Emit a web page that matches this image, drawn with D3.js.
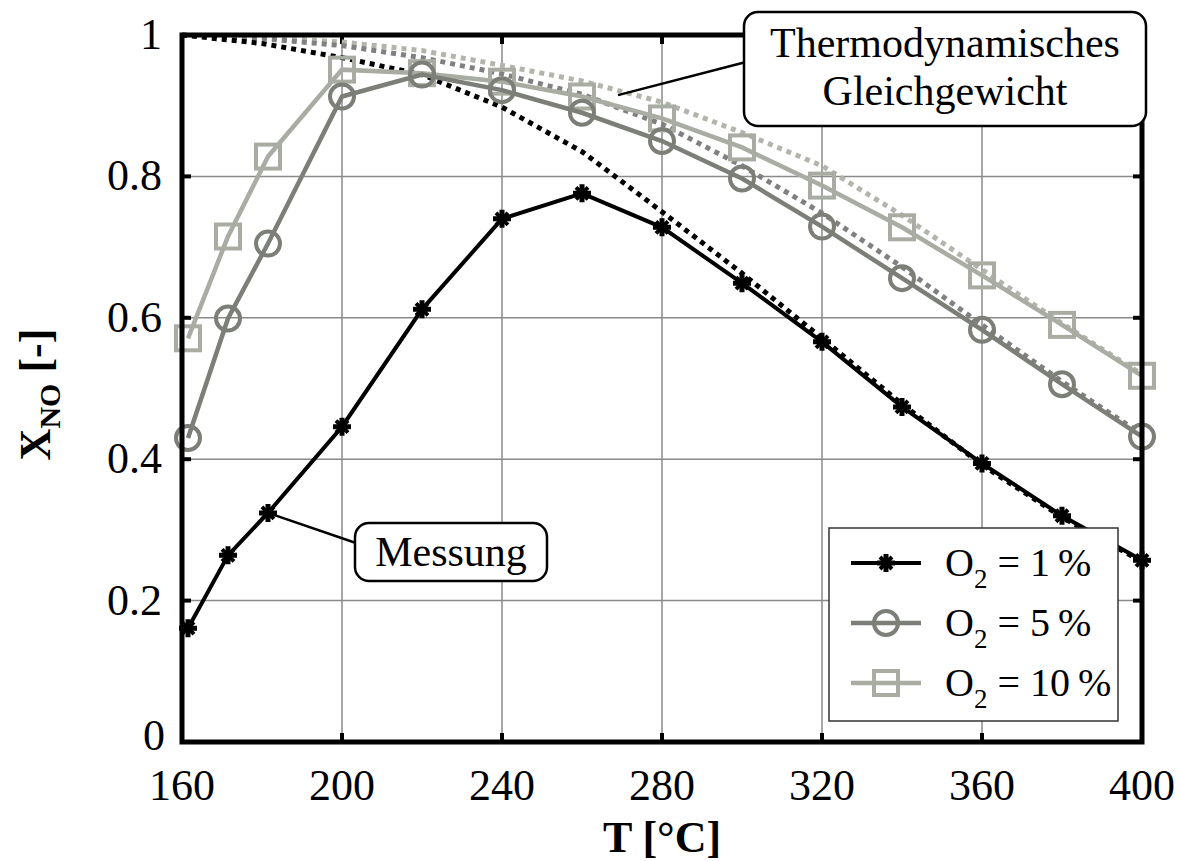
<!DOCTYPE html>
<html>
<head>
<meta charset="utf-8">
<script src="https://cdn.jsdelivr.net/npm/d3@7"></script>
<style>
  html, body { margin: 0; padding: 0; background: #fff; }
  text { font-family: "Liberation Serif", "DejaVu Serif", serif; fill: #000; }
</style>
</head>
<body>
<div id="chart"></div>
<script>
// ── Data ──
const tMeas = [161.5, 171.5, 181.5, 200, 220, 240, 260, 280, 300, 320, 340, 360, 380, 400];
const meas1  = [0.161, 0.264, 0.324, 0.446, 0.612, 0.740, 0.776, 0.728, 0.649, 0.566, 0.474, 0.394, 0.320, 0.257];
const meas5  = [0.430, 0.599, 0.705, 0.913, 0.944, 0.922, 0.890, 0.850, 0.797, 0.729, 0.656, 0.583, 0.506, 0.432];
const meas10 = [0.571, 0.715, 0.828, 0.951, 0.946, 0.934, 0.913, 0.882, 0.841, 0.787, 0.728, 0.660, 0.590, 0.518];

const tEq  = [160, 180, 200, 220, 240, 260, 280, 300, 320, 340, 360, 380, 400];
const eq1  = [1.000, 0.988, 0.968, 0.944, 0.898, 0.835, 0.750, 0.663, 0.571, 0.478, 0.392, 0.318, 0.255];
const eq5  = [1.000, 0.995, 0.985, 0.968, 0.945, 0.916, 0.874, 0.815, 0.748, 0.672, 0.590, 0.510, 0.435];
const eq10 = [1.000, 0.997, 0.990, 0.978, 0.957, 0.935, 0.905, 0.862, 0.815, 0.745, 0.668, 0.592, 0.520];

const xTicks = [160, 200, 240, 280, 320, 360, 400];
const yTicks = [0, 0.2, 0.4, 0.6, 0.8, 1];
const yTickLabels = ['0', '0.2', '0.4', '0.6', '0.8', '1'];

const seriesNames = ['1', '5', '10'];
const colors   = ['#000000', '#7c7f78', '#a9aca2'];
const eqColors = ['#000000', '#808080', '#b3b5ad'];

// ── Layout ──
const W = 1179, H = 861;
const M = { top: 35, right: 37, bottom: 119, left: 182 };

const svg = d3.select('#chart').append('svg')
  .attr('width', W).attr('height', H);

const x = d3.scaleLinear().domain([160, 400]).range([M.left, W - M.right]);
const y = d3.scaleLinear().domain([0, 1]).range([H - M.bottom, M.top]);

// grid
const grid = svg.append('g');
grid.selectAll('.gx').data(xTicks.slice(1, -1)).join('line')
  .attr('x1', d => x(d)).attr('x2', d => x(d))
  .attr('y1', y(0)).attr('y2', y(1))
  .attr('stroke', '#8a8a8a').attr('stroke-width', 1.5);
grid.selectAll('.gy').data(yTicks.slice(1, -1)).join('line')
  .attr('x1', x(160)).attr('x2', x(400))
  .attr('y1', d => y(d)).attr('y2', d => y(d))
  .attr('stroke', '#8a8a8a').attr('stroke-width', 1.5);

// inward ticks on all four sides
const tk = svg.append('g').attr('stroke', '#000').attr('stroke-width', 4);
xTicks.forEach(t => {
  tk.append('line').attr('x1', x(t)).attr('x2', x(t)).attr('y1', y(0)).attr('y2', y(0) - 9);
  tk.append('line').attr('x1', x(t)).attr('x2', x(t)).attr('y1', y(1)).attr('y2', y(1) + 9);
});
yTicks.forEach(t => {
  tk.append('line').attr('x1', x(160)).attr('x2', x(160) + 9).attr('y1', y(t)).attr('y2', y(t));
  tk.append('line').attr('x1', x(400)).attr('x2', x(400) - 9).attr('y1', y(t)).attr('y2', y(t));
});

// equilibrium (dotted)
const line = d3.line().x(d => x(d[0])).y(d => y(d[1]));
[eq10, eq5, eq1].forEach((vals, i) => {
  const idx = 2 - i;
  svg.append('path')
    .datum(tEq.map((t, j) => [t, vals[j]]))
    .attr('d', line)
    .attr('fill', 'none')
    .attr('stroke', eqColors[idx])
    .attr('stroke-width', 5)
    .attr('stroke-dasharray', '5,5');
});

// measurements
function drawMarker(g, type, color) {
  if (type === 0) {
    g.append('path').attr('d', 'M-9,0H9M0,-9V9').attr('stroke', color).attr('stroke-width', 5);
    g.append('path').attr('d', 'M-6,-6L6,6M-6,6L6,-6').attr('stroke', color).attr('stroke-width', 4);
  } else if (type === 1) {
    g.append('circle').attr('r', 12).attr('fill', 'none').attr('stroke', color).attr('stroke-width', 4);
  } else {
    g.append('rect').attr('x', -12).attr('y', -12).attr('width', 24).attr('height', 24)
      .attr('fill', 'none').attr('stroke', color).attr('stroke-width', 4);
  }
}

[meas10, meas5, meas1].forEach((vals, i) => {
  const idx = 2 - i;
  const pts = tMeas.map((t, j) => [t, vals[j]]);
  svg.append('path').datum(pts).attr('d', line)
    .attr('fill', 'none').attr('stroke', colors[idx]).attr('stroke-width', idx === 0 ? 4 : 4.5);
  const mg = svg.append('g');
  pts.forEach(p => {
    const g = mg.append('g').attr('transform', `translate(${x(p[0])},${y(p[1])})`);
    drawMarker(g, idx, colors[idx]);
  });
});

// frame
svg.append('rect')
  .attr('x', x(160)).attr('y', y(1))
  .attr('width', x(400) - x(160)).attr('height', y(0) - y(1))
  .attr('fill', 'none').attr('stroke', '#000').attr('stroke-width', 5);

// tick labels
svg.append('g').selectAll('text').data(xTicks).join('text')
  .attr('x', d => x(d)).attr('y', y(0) + 58)
  .attr('text-anchor', 'middle').attr('font-size', 44)
  .text(d => d);
svg.append('g').selectAll('text').data(yTicks).join('text')
  .attr('x', (d, i) => i === 0 ? x(160) - 17 : x(160) - 20)
  .attr('y', (d, i) => i === 0 ? y(d) + 8 : y(d) + 14)
  .attr('text-anchor', 'end').attr('font-size', 44)
  .text((d, i) => yTickLabels[i]);

// axis titles
svg.append('text')
  .attr('x', (x(160) + x(400)) / 2).attr('y', 852)
  .attr('text-anchor', 'middle').attr('font-size', 44).attr('font-weight', 'bold')
  .text('T [°C]');
const yl = svg.append('text')
  .attr('transform', `translate(50,${(y(0) + y(1)) / 2 + 6}) rotate(-90)`)
  .attr('text-anchor', 'middle').attr('font-size', 44).attr('font-weight', 'bold');
yl.append('tspan').text('X');
yl.append('tspan').attr('font-size', 30).attr('dy', 10).text('NO');
yl.append('tspan').attr('dy', -10).text(' [-]');

// legend
const lg = svg.append('g');
lg.append('rect').attr('x', 829).attr('y', 528).attr('width', 289).attr('height', 193)
  .attr('fill', '#fff').attr('stroke', '#333').attr('stroke-width', 1.5);
seriesNames.forEach((name, i) => {
  const ly = 563 + i * 60;
  lg.append('line').attr('x1', 851).attr('x2', 921).attr('y1', ly).attr('y2', ly)
    .attr('stroke', colors[i]).attr('stroke-width', i === 0 ? 4 : 4.5);
  drawMarker(lg.append('g').attr('transform', `translate(886,${ly})`), i, colors[i]);
  const t = lg.append('text').attr('x', 945).attr('y', ly + 13).attr('font-size', 40);
  t.append('tspan').text('O');
  t.append('tspan').attr('font-size', 27).attr('dy', 12).text('2');
  t.append('tspan').attr('dy', -12).text(` = ${name}\u2009%`);
});

// annotations
function labelBox(x0, y0, w, h, lines, lineY) {
  const g = svg.append('g');
  g.append('rect').attr('x', x0).attr('y', y0).attr('width', w).attr('height', h)
    .attr('rx', 14).attr('fill', '#fff').attr('stroke', '#000').attr('stroke-width', 2.5);
  lines.forEach((s, i) => g.append('text')
    .attr('x', x0 + w / 2).attr('y', lineY[i])
    .attr('text-anchor', 'middle').attr('font-size', 42).text(s));
}

svg.append('line')
  .attr('x1', x(269)).attr('y1', y(eq10[5] - 0.02))
  .attr('x2', 746).attr('y2', 62)
  .attr('stroke', '#000').attr('stroke-width', 2.5);
labelBox(744, 12, 402, 114, ['Thermodynamisches', 'Gleichgewicht'], [57, 105]);

svg.append('line')
  .attr('x1', x(tMeas[2])).attr('y1', y(meas1[2]))
  .attr('x2', 356).attr('y2', 543)
  .attr('stroke', '#000').attr('stroke-width', 2.5);
labelBox(355, 523, 192, 58, ['Messung'], [566]);
</script>
</body>
</html>
